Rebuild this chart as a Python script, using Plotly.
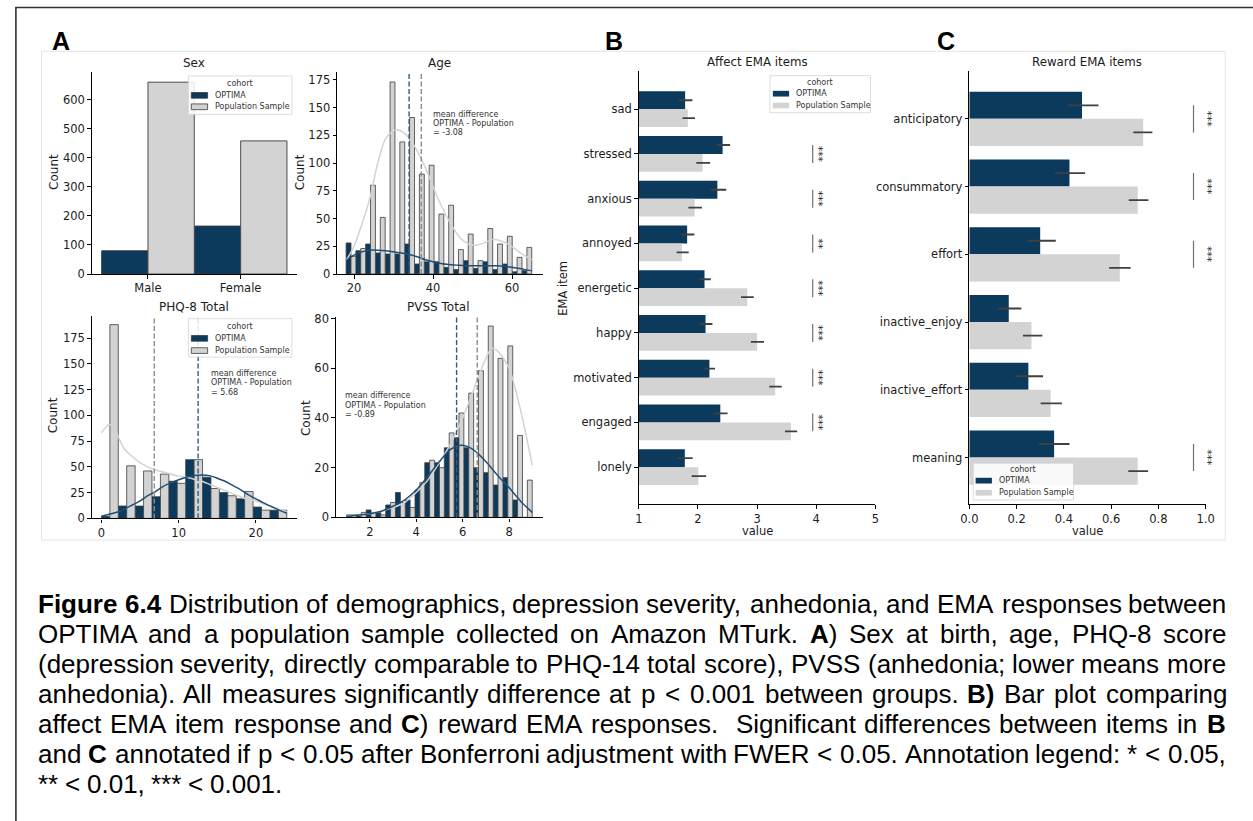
import numpy as np
import plotly.graph_objects as go

W, H = 1253, 821
NAVY = "#0b3a5d"
LIGHT = "#d3d3d3"
EDGE = "#3c3c3c"
INK = "#1c1c1c"
SANS = "DejaVu Sans"
ARIAL = "Liberation Sans, Arial, sans-serif"

# ---------------------------------------------------------------- data
sex_categories = ["Male", "Female"]
sex_optima = [80, 165]
sex_population = [660, 458]

age_range = (18, 65)
age_optima = [28, 21, 27, 19, 18, 18, 27, 9, 11, 11, 6, 4, 12, 5, 11, 4, 9, 2, 3]
age_population = [16, 23, 80, 51, 173, 119, 141, 90, 98, 54, 62, 22, 36, 12, 41, 27, 34, 15, 24]
age_mean_optima, age_mean_population = 33.95, 37.03
age_kde_pop_x = [18, 20, 22, 24, 26, 28, 30, 31, 33, 35, 37, 39, 41, 43, 45, 47, 49, 51, 53, 55, 57, 59, 61, 63, 65]
age_kde_pop_y = [12, 25, 45, 68, 100, 122, 129, 130, 126, 117, 104, 88, 70, 55, 42, 32, 27, 26, 28, 31, 30, 27, 22, 17, 13]
age_kde_opt_x = [18, 20, 22, 24, 26, 28, 30, 32, 34, 36, 38, 40, 42, 44, 46, 48, 50, 52, 54, 56, 58, 60, 62, 64, 65]
age_kde_opt_y = [12, 17, 20, 21.5, 21.5, 21, 20, 19, 17.5, 15.5, 13, 11, 9.5, 8.5, 8, 7.5, 7.5, 7.5, 7.5, 7.5, 7, 6, 5, 3.5, 3]

phq_range = (0, 24)
phq_optima = [2, 12, 12, 21, 36, 57, 40, 25, 19, 11, 8]
phq_population = [188, 51, 46, 43, 34, 57, 29, 22, 26, 8, 8]
phq_mean_optima, phq_mean_population = 12.52, 6.84
phq_kde_pop_x = [0, 0.5, 1, 1.5, 2, 2.5, 3, 4, 5, 6, 7, 8, 9, 10, 11, 12, 13, 14, 15, 16, 17, 18, 19, 20, 21, 22, 23, 24]
phq_kde_pop_y = [83, 88, 91, 89, 82, 74, 67, 60, 54, 50, 47, 45, 43, 41, 40, 38, 36, 33, 30, 27, 24, 21, 18.5, 17, 14, 11.5, 9, 6.5]
phq_kde_opt_x = [0, 1, 2, 3, 4, 5, 6, 7, 8, 9, 10, 11, 12, 13, 14, 15, 16, 17, 18, 19, 20, 21, 22, 23, 24]
phq_kde_opt_y = [2, 4, 6, 9, 13, 17, 22, 26, 31, 34.5, 37.5, 40, 41.5, 42, 41.5, 39, 36, 32, 28, 23, 19, 15, 11.5, 8, 5]

pvss_range = (1, 9)
pvss_optima = [1, 1, 3, 2, 5, 10, 7, 11, 22, 22, 28, 32, 28, 20, 18, 13, 16, 7, 0]
pvss_population = [1, 2, 2, 1, 6, 6, 4, 14, 23, 20, 34, 42, 50, 59, 77, 64, 69, 33, 15]
pvss_mean_optima, pvss_mean_population = 5.74, 6.63
pvss_kde_pop_x = [1, 2, 3, 3.5, 4, 4.5, 5, 5.5, 6, 6.5, 7, 7.25, 7.5, 8, 8.5, 9]
pvss_kde_pop_y = [0.5, 1.5, 4, 6, 10, 15, 22, 30, 40, 52, 64, 68, 67, 60, 43, 21]
pvss_kde_opt_x = [1, 2, 2.5, 3, 3.5, 4, 4.5, 5, 5.5, 6, 6.5, 7, 7.5, 8, 8.5, 9]
pvss_kde_opt_y = [0.4, 1.5, 2.5, 4.5, 7, 11, 16.5, 22.5, 27.5, 29, 27, 22.5, 17, 12, 6.5, 2]

affect_items = ["sad", "stressed", "anxious", "annoyed", "energetic", "happy", "motivated", "engaged", "lonely"]
affect_optima = [1.783, 2.417, 2.328, 1.817, 2.111, 2.128, 2.194, 2.378, 1.778]
affect_optima_lo = [1.672, 2.322, 2.206, 1.722, 2.028, 2.028, 2.106, 2.278, 1.656]
affect_optima_hi = [1.906, 2.544, 2.478, 1.939, 2.217, 2.244, 2.289, 2.500, 1.911]
affect_population = [1.828, 2.078, 1.944, 1.728, 2.833, 3.000, 3.306, 3.572, 2.006]
affect_population_lo = [1.739, 1.972, 1.839, 1.639, 2.728, 2.894, 3.206, 3.472, 1.894]
affect_population_hi = [1.950, 2.206, 2.067, 1.844, 2.944, 3.117, 3.417, 3.678, 2.139]
affect_sig = ["", "***", "***", "**", "***", "***", "***", "***", ""]

reward_items = ["anticipatory", "consummatory", "effort", "inactive_enjoy", "inactive_effort", "meaning"]
reward_optima = [0.477, 0.424, 0.300, 0.167, 0.250, 0.359]
reward_optima_lo = [0.417, 0.362, 0.246, 0.121, 0.193, 0.295]
reward_optima_hi = [0.547, 0.490, 0.366, 0.220, 0.312, 0.424]
reward_population = [0.736, 0.713, 0.637, 0.263, 0.344, 0.713]
reward_population_lo = [0.694, 0.675, 0.592, 0.227, 0.302, 0.673]
reward_population_hi = [0.775, 0.758, 0.683, 0.309, 0.392, 0.757]
reward_sig = ["***", "***", "***", "", "", "***"]

cohorts = ["OPTIMA", "Population Sample"]

caption_lines = [
    "<b>Figure 6.4</b> Distribution of demographics, depression severity, anhedonia, and EMA responses between",
    "OPTIMA and a population sample collected on Amazon MTurk. <b>A</b>) Sex at birth, age, PHQ-8 score",
    "(depression severity, directly comparable to PHQ-14 total score), PVSS (anhedonia; lower means more",
    "anhedonia). All measures significantly difference at p < 0.001 between groups. <b>B)</b> Bar plot comparing",
    "affect EMA item response and <b>C</b>) reward EMA responses.  Significant differences between items in <b>B</b>",
    "and <b>C</b> annotated if p < 0.05 after Bonferroni adjustment with FWER < 0.05. Annotation legend: * < 0.05,",
    "** < 0.01, *** < 0.001.",
]

# ---------------------------------------------------------------- helpers
shapes, annotations, traces = [], [], []


def fx(v):
    return v / W


def fy(v):
    return 1 - v / H


def note(text, x, y, size, family=SANS, color=INK, xanchor="center", yanchor="middle", **kw):
    d = dict(text=text, x=fx(x), y=fy(y), xref="paper", yref="paper", showarrow=False,
             font=dict(family=family, size=size, color=color), xanchor=xanchor, yanchor=yanchor)
    d.update(kw)
    annotations.append(d)


def axis(x0=None, x1=None, y0=None, y1=None, **kw):
    base = dict(showline=True, linecolor="black", linewidth=1.3, ticks="outside", ticklen=3.5,
                tickwidth=1, tickcolor="black", showgrid=False, zeroline=False,
                tickfont=dict(family=SANS, size=11.5, color=INK))
    if x0 is not None:
        base["domain"] = [fx(x0), fx(x1)]
    else:
        base["domain"] = [fy(y1), fy(y0)]
    base.update(kw)
    return base


def dodge_hist(counts_a, counts_b, lo, hi, xa, ya):
    edges = np.linspace(lo, hi, len(counts_a) + 1)
    bw = edges[1] - edges[0]
    for counts, color, off in ((counts_a, NAVY, 0.0), (counts_b, LIGHT, bw / 2)):
        traces.append(go.Bar(x=edges[:-1], y=counts, offset=off, width=bw / 2, xaxis=xa, yaxis=ya,
                             marker=dict(color=color, line=dict(color=EDGE, width=0.8))))


def kde_line(xs, ys, color, xa, ya):
    traces.append(go.Scatter(x=xs, y=ys, mode="lines", xaxis=xa, yaxis=ya,
                             line=dict(color=color, width=1.5, shape="spline", smoothing=0.8)))


def mean_lines(m_opt, m_pop, xr, yr):
    for m, c in ((m_opt, "#2f5b80"), (m_pop, "#8c8c8c")):
        shapes.append(dict(type="line", xref=xr, yref=yr + " domain", x0=m, x1=m, y0=0, y1=1,
                           line=dict(color=c, width=1.4, dash="5px,2.5px"), layer="above"))


def mean_note(m_opt, m_pop, x, y):
    lines = ["mean difference", "OPTIMA - Population", "= %.2f" % (m_opt - m_pop)]
    for k, t in enumerate(lines):
        note(t, x, y + 9.4 * k, 8, color="#333333", xanchor="left")


def legend(x0, y0, x1, y1, title_y, row_y, patch_x0, text_x, edged):
    shapes.append(dict(type="rect", xref="paper", yref="paper", x0=fx(x0), x1=fx(x1),
                       y0=fy(y1), y1=fy(y0), line=dict(color="#d4d4d4", width=0.8),
                       fillcolor="rgba(255,255,255,0.85)", layer="above"))
    note("cohort", (x0 + x1) / 2, title_y, 8, color="#333333")
    for label, color, yy in zip(cohorts, (NAVY, LIGHT), row_y):
        shapes.append(dict(type="rect", xref="paper", yref="paper", x0=fx(patch_x0), x1=fx(patch_x0 + 16.5),
                           y0=fy(yy + 2.9), y1=fy(yy - 2.9), fillcolor=color,
                           line=dict(color=EDGE if edged else color, width=0.8 if edged else 0),
                           layer="above"))
        note(label, text_x, yy, 8, color="#333333", xanchor="left")


def hbars(values, lo, hi, color, off, xa, ya):
    ys = list(range(len(values)))
    traces.append(go.Bar(x=values, y=ys, orientation="h", offset=off, width=0.4, xaxis=xa, yaxis=ya,
                         marker=dict(color=color, line=dict(width=0)),
                         error_x=dict(type="data", symmetric=False,
                                      array=[h - v for h, v in zip(hi, values)],
                                      arrayminus=[v - l for v, l in zip(values, lo)],
                                      color="#404040", thickness=1.8, width=0)))


def sig_marks(sig, line_x, star_x, xr, yr, x_range):
    # star position expressed as a fraction of the x-axis so it may sit past the axis end
    star_frac = (star_x - x_range[0]) / (x_range[1] - x_range[0])
    for i, s in enumerate(sig):
        if not s:
            continue
        shapes.append(dict(type="line", xref=xr, yref=yr, x0=line_x, x1=line_x, y0=i - 0.2, y1=i + 0.2,
                           line=dict(color="#707070", width=1.2), layer="above"))
        annotations.append(dict(text=s, x=star_frac, y=i, xref=xr + " domain", yref=yr, showarrow=False,
                                textangle=90, font=dict(family=SANS, size=10.5, color=INK),
                                xanchor="center", yanchor="middle"))


affect_range = [1, 5]
reward_range = [0, 1]

# ---------------------------------------------------------------- panel A: sex
traces.append(go.Bar(x=[0, 1], y=sex_optima, offset=-0.5, width=0.5, xaxis="x", yaxis="y",
                     marker=dict(color=NAVY, line=dict(color=EDGE, width=0.9))))
traces.append(go.Bar(x=[0, 1], y=sex_population, offset=0.0, width=0.5, xaxis="x", yaxis="y",
                     marker=dict(color=LIGHT, line=dict(color=EDGE, width=0.9))))

# ---------------------------------------------------------------- panel A: histograms
dodge_hist(age_optima, age_population, *age_range, "x2", "y2")
kde_line(age_kde_pop_x, age_kde_pop_y, LIGHT, "x2", "y2")
kde_line(age_kde_opt_x, age_kde_opt_y, "#1f4f78", "x2", "y2")
mean_lines(age_mean_optima, age_mean_population, "x2", "y2")

dodge_hist(phq_optima, phq_population, *phq_range, "x3", "y3")
kde_line(phq_kde_pop_x, phq_kde_pop_y, LIGHT, "x3", "y3")
kde_line(phq_kde_opt_x, phq_kde_opt_y, "#1f4f78", "x3", "y3")
mean_lines(phq_mean_optima, phq_mean_population, "x3", "y3")

dodge_hist(pvss_optima, pvss_population, *pvss_range, "x4", "y4")
kde_line(pvss_kde_pop_x, pvss_kde_pop_y, LIGHT, "x4", "y4")
kde_line(pvss_kde_opt_x, pvss_kde_opt_y, "#1f4f78", "x4", "y4")
mean_lines(pvss_mean_optima, pvss_mean_population, "x4", "y4")

# ---------------------------------------------------------------- panels B and C
hbars(affect_optima, affect_optima_lo, affect_optima_hi, NAVY, -0.4, "x5", "y5")
hbars(affect_population, affect_population_lo, affect_population_hi, LIGHT, 0.0, "x5", "y5")
sig_marks(affect_sig, 3.94, 4.047, "x5", "y5", affect_range)

hbars(reward_optima, reward_optima_lo, reward_optima_hi, NAVY, -0.4, "x6", "y6")
hbars(reward_population, reward_population_lo, reward_population_hi, LIGHT, 0.0, "x6", "y6")
sig_marks(reward_sig, 0.949, 1.0105, "x6", "y6", reward_range)

# ---------------------------------------------------------------- text
note("Sex", 188, 59, 12)
note("Age", 437, 59, 12)
note("PHQ-8 Total", 188, 306.5, 12)
note("PVSS Total", 436, 306, 12)
note("Affect EMA items", 759, 58, 11.8)
note("Reward EMA items", 1094, 58, 11.8)
for cx, cy in ((45, 169), (295, 170), (45, 416), (301.5, 419)):
    note("Count", cx, cy, 12, textangle=-90)
note("EMA item", 562, 287, 11.5, textangle=-90)
note("value", 759, 534, 11.5)
note("value", 1094, 534, 11.5)

mean_note(age_mean_optima, age_mean_population, 428.5, 110.7)
mean_note(phq_mean_optima, phq_mean_population, 202.5, 374)
mean_note(pvss_mean_optima, pvss_mean_population, 338.5, 396.7)

legend(182, 72, 287, 111, 79.3, (91.7, 103.3), 185, 207, True)
legend(182, 318.3, 287, 357.3, 326, (338.3, 350.7), 185, 207, True)
legend(772, 71.7, 874, 109.3, 78.3, (90, 102), 775, 796, False)
legend(978.3, 465, 1080, 502.3, 471, (482.7, 495), 980.7, 1002, False)

for letter, lx in (("A", 42), ("B", 603), ("C", 939)):
    note("<b>%s</b>" % letter, lx, 37, 25, family=ARIAL, color="black", xanchor="left")

# frame of the figure image and outer page border
shapes.append(dict(type="rect", xref="paper", yref="paper", x0=fx(33), x1=fx(1234), y0=fy(543), y1=fy(47),
                   line=dict(color="#e4e4e4", width=1), layer="below"))
shapes.append(dict(type="rect", xref="paper", yref="paper", x0=fx(7), x1=fx(1300), y0=fy(900), y1=fy(2.5),
                   line=dict(color="#333333", width=1.6), layer="below"))

# ---------------------------------------------------------------- justified caption
REG = {' ': 278, '(': 333, ')': 333, '*': 389, ',': 278, '-': 333, '.': 278, ':': 278, ';': 278,
       '<': 584, '=': 584, 'A': 667, 'B': 667, 'C': 722, 'D': 722, 'E': 667, 'F': 611, 'G': 778,
       'H': 722, 'I': 278, 'J': 500, 'K': 667, 'L': 556, 'M': 833, 'N': 722, 'O': 778, 'P': 667,
       'Q': 778, 'R': 722, 'S': 667, 'T': 611, 'U': 722, 'V': 667, 'W': 944, 'X': 667, 'Y': 667,
       'Z': 611, 'a': 556, 'b': 556, 'c': 500, 'd': 556, 'e': 556, 'f': 278, 'g': 556, 'h': 556,
       'i': 222, 'j': 222, 'k': 500, 'l': 222, 'm': 833, 'n': 556, 'o': 556, 'p': 556, 'q': 556,
       'r': 333, 's': 500, 't': 278, 'u': 556, 'v': 500, 'w': 722, 'x': 500, 'y': 500, 'z': 500}
for d in "0123456789":
    REG[d] = 556
BOLD = dict(REG)
BOLD.update({'A': 722, 'B': 722, 'C': 722, 'F': 611, 'i': 278, 'g': 611, 'u': 611, 'r': 389,
             'e': 556, ')': 333})

CAP_SIZE = 26
CAP_LEFT, CAP_RIGHT = 28, 1233
CAP_TOP, CAP_STEP = 608, 30.5


def esc(s):
    return s.replace("&", "&amp;").replace("<", "&lt;").replace(">", "&gt;")


def parse(line):
    chars, bold, i = [], False, 0
    while i < len(line):
        if line.startswith("<b>", i):
            bold, i = True, i + 3
        elif line.startswith("</b>", i):
            bold, i = False, i + 4
        else:
            chars.append((line[i], bold))
            i += 1
    words, cur, spaces, pending = [], [], [], 0
    for ch, b in chars:
        if ch == " ":
            if cur:
                words.append(cur)
                spaces.append(pending)
                cur, pending = [], 0
            pending += 1
        else:
            cur.append((ch, b))
    if cur:
        words.append(cur)
        spaces.append(pending)
    return words, spaces


def word_html(word):
    out, run, rb = "", "", None
    for ch, b in word + [(None, None)]:
        if b != rb and run:
            out += ("<b>%s</b>" % esc(run)) if rb else esc(run)
            run = ""
        if ch is not None:
            run += ch
            rb = b
    return out


def word_width(word):
    return sum((BOLD if b else REG).get(ch, 556) for ch, b in word) * CAP_SIZE / 1000.0


for k, line in enumerate(caption_lines):
    words, spaces = parse(line)
    widths = [word_width(w) for w in words]
    space_w = REG[" "] * CAP_SIZE / 1000.0
    n_sp = sum(spaces[1:])
    natural = sum(widths) + n_sp * space_w
    last = k == len(caption_lines) - 1
    extra = 0.0 if last or n_sp == 0 else (CAP_RIGHT - CAP_LEFT - natural) / n_sp
    x = CAP_LEFT
    for j, (w, wd) in enumerate(zip(words, widths)):
        if j > 0:
            x += spaces[j] * (space_w + extra)
        note(word_html(w), x, CAP_TOP + CAP_STEP * k, CAP_SIZE, family=ARIAL, color="black",
             xanchor="left", borderpad=0)
        x += wd

# ---------------------------------------------------------------- layout
layout = dict(
    width=W, height=H, margin=dict(l=0, r=0, t=0, b=0), autosize=False,
    paper_bgcolor="white", plot_bgcolor="white", showlegend=False, barmode="overlay",
    shapes=shapes, annotations=annotations,
    xaxis=axis(84, 292, anchor="y", range=[-0.606, 1.606], tickvals=[0, 1], ticktext=sex_categories),
    yaxis=axis(y0=68, y1=273, anchor="x", range=[0, 695], tickvals=list(range(0, 700, 100))),
    xaxis2=axis(333, 542, anchor="y2", range=[15.75, 67.9], tickvals=[20, 40, 60]),
    yaxis2=axis(y0=68, y1=273, anchor="x2", range=[0, 182], tickvals=list(range(0, 200, 25))),
    xaxis3=axis(84, 292, anchor="y3", range=[-1.25, 25.3], tickvals=[0, 10, 20]),
    yaxis3=axis(y0=316, y1=521, anchor="x3", range=[0, 196], tickvals=list(range(0, 200, 25))),
    xaxis4=axis(331.7, 541.7, anchor="y4", range=[0.54, 9.46], tickvals=[2, 4, 6, 8]),
    yaxis4=axis(y0=316.7, y1=520, anchor="x4", range=[0, 80.6], tickvals=[0, 20, 40, 60, 80]),
    xaxis5=axis(639, 879, anchor="y5", range=affect_range, tickvals=[1, 2, 3, 4, 5]),
    yaxis5=axis(y0=66.7, y1=506.7, anchor="x5", range=[8.83, -0.86], tickvals=list(range(len(affect_items))),
                ticktext=affect_items),
    xaxis6=axis(974.3, 1214, anchor="y6", range=reward_range, tickvals=[0, 0.2, 0.4, 0.6, 0.8, 1.0],
                tickformat=".1f"),
    yaxis6=axis(y0=66.7, y1=506.7, anchor="x6", range=[5.69, -0.71], tickvals=list(range(len(reward_items))),
                ticktext=reward_items),
)

fig = go.Figure(data=traces, layout=layout)
fig.write_html("out.html")
